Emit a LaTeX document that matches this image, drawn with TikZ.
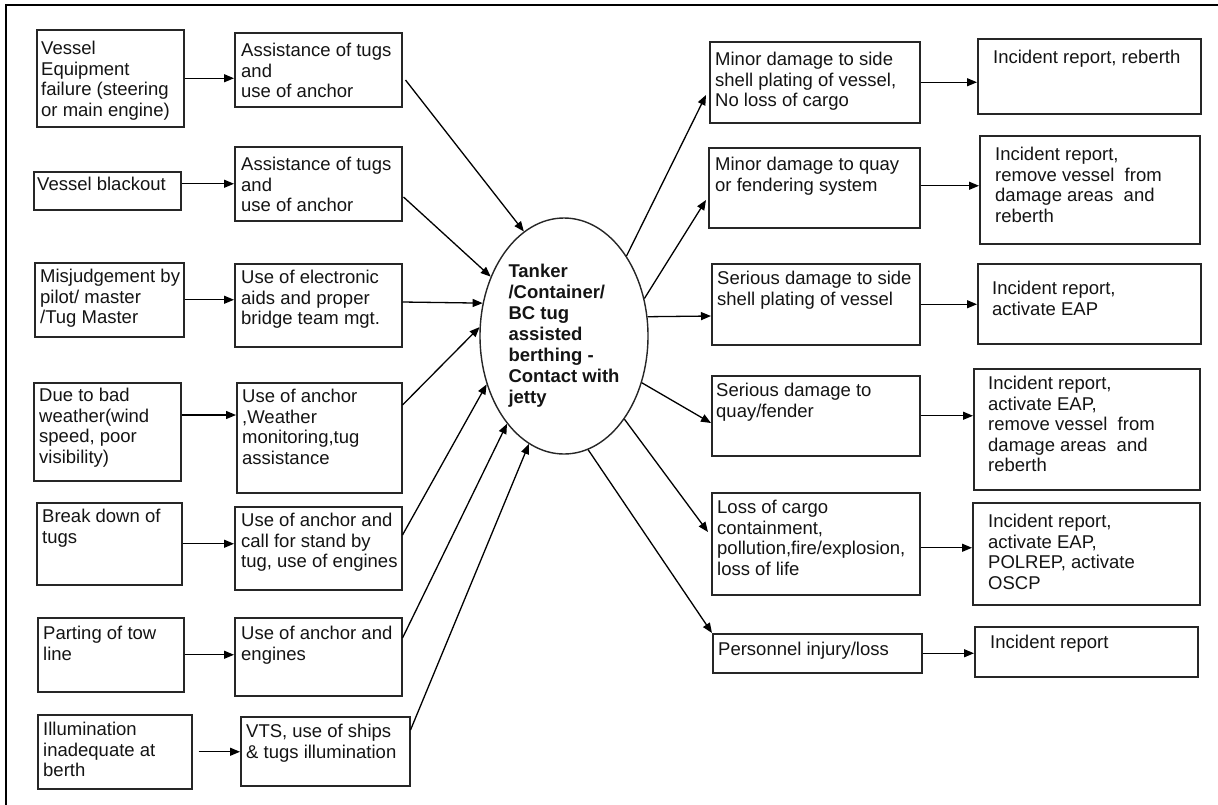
\documentclass[tikz,border=0pt]{standalone}
\usepackage{fontspec}
\setmainfont{Liberation Sans}
\usetikzlibrary{arrows.meta,shapes.geometric,calc}

\tikzset{
  box/.style={draw=black!85, line width=1.5pt, inner sep=0pt, anchor=north west},
  txt/.style={inner sep=0pt, anchor=north west, align=left,
    font=\fontsize{18.5}{20.5}\selectfont, text=black!92},
  arr/.style={draw=black, line width=1.3pt, -{Triangle[length=10pt,width=8pt]}},
  hub/.style={ellipse, draw=black!85, line width=1.4pt, inner sep=0pt, align=left,
    font=\bfseries\fontsize{18.5}{21}\selectfont, text=black!92},
  frame/.style={draw=black, line width=2.2pt},
}

% \tbox{name}{x1}{y1}{x2}{y2}{text x}{text y}{text}
\newcommand\tbox[8]{%
  \node[box, minimum width={(#4-#2)*1pt}, minimum height={(#5-#3)*1pt}] (#1) at (#2,#3) {};
  \node[txt] (#1-t) at (#6,#7) {#8};
}

\begin{document}
\begin{tikzpicture}[x=1pt, y=-1pt]
\useasboundingbox (0,0) rectangle (1218,804);
\fill[white] (0,0) rectangle (1218,804);

% page frame
\draw[frame] (1218,5) -- (6,5) -- (6,806);

% causes
\tbox{l1}{36}{29}{183}{126}{41}{41}{Vessel\\Equipment\\failure (steering\\or main engine)}
\tbox{l2}{33}{171}{180}{209}{37}{177}{Vessel blackout}
\tbox{l3}{34}{262}{183}{336}{40}{269}{Misjudgement by\\pilot/ master\\/Tug Master}
\tbox{l4}{33}{382}{180}{480}{39}{388}{Due to bad\\weather(wind\\speed, poor\\visibility)}
\tbox{l5}{36}{502}{181}{584}{42}{509}{Break down of\\tugs}
\tbox{l6}{37}{617}{183}{691}{43}{626}{Parting of tow\\line}
\tbox{l7}{37}{714}{191}{788}{43}{722}{Illumination\\inadequate at\\berth}

% preventive barriers
\tbox{m1}{234}{32}{401}{106}{241}{43}{Assistance of tugs\\and\\use of anchor}
\tbox{m2}{234}{146}{401}{220}{241}{157}{Assistance of tugs\\and\\use of anchor}
\tbox{m3}{234}{263}{401}{346}{241}{270}{Use of electronic\\aids and proper\\bridge team mgt.}
\tbox{m4}{236}{382}{401}{492}{242}{389}{Use of anchor\\,Weather\\monitoring,tug\\assistance}
\tbox{m5}{234}{506}{401}{589}{241}{513}{Use of anchor and\\call for stand by\\tug, use of engines}
\tbox{m6}{234}{617}{401}{695}{241}{626}{Use of anchor and\\engines}
\tbox{m7}{240}{716}{409}{785}{246}{724}{VTS, use of ships\\\& tugs illumination}

% top event
\node[hub, minimum width=168pt, minimum height=236pt] (hub) at (564,336)
  {Tanker\\/Container/\\BC tug\\assisted\\berthing -\\Contact with\\jetty};

% consequences
\tbox{r1}{709}{41}{919}{122}{715}{52}{Minor damage to side\\shell plating of vessel,\\No loss of cargo}
\tbox{r2}{708}{147}{919}{227}{715}{157}{Minor damage to quay\\or fendering system}
\tbox{r3}{711}{263}{919}{344}{717}{271}{Serious damage to side\\shell plating of vessel}
\tbox{r4}{711}{375}{919}{455}{716}{383}{Serious damage to\\quay/fender}
\tbox{r5}{711}{492}{919}{594}{717}{500}{Loss of cargo\\containment,\\pollution,fire/explosion,\\loss of life}
\tbox{r6}{712}{633}{921}{672}{718}{642}{Personnel injury/loss}

% responses
\tbox{o1}{977}{38}{1200}{113}{993}{50}{Incident report, reberth}
\tbox{o2}{979}{135}{1199}{243}{995}{147}{Incident report,\\remove vessel~ from\\damage areas~ and\\reberth}
\tbox{o3}{977}{263}{1200}{343}{992}{281}{Incident report,\\activate EAP}
\tbox{o4}{973}{368}{1199}{489}{988}{376}{Incident report,\\activate EAP,\\remove vessel~ from\\damage areas~ and\\reberth}
\tbox{o5}{972}{502}{1199}{604}{988}{514}{Incident report,\\activate EAP,\\POLREP, activate\\OSCP}
\tbox{o6}{974}{626}{1197}{676}{990}{635}{Incident report}

% cause -> barrier
\draw[arr] (l1.east) -- (l1.east -| m1.west);
\draw[arr] (m2.west -| l2.east) -- (m2.west);
\draw[arr] (l3.east) -- (l3.east -| m3.west);
\coordinate (a4) at ($(l4.north east)+(0,33)$);
\draw[arr] (a4) -- (a4 -| m4.west);
\draw[arr] (l5.east) -- (l5.east -| m5.west);
\draw[arr] (l6.east) -- (l6.east -| m6.west);
\draw[arr] ([xshift=6pt]l7.east) -- (l7.east -| m7.west);

% barrier -> top event
\draw[arr] ($(m1.north east)+(3,48)$) -- (hub.111);
\draw[arr] ($(m2.north east)+(1,51)$) -- (hub.141);
\draw[arr] ($(m3.north east)+(0,39)$) -- (hub.158);
\draw[arr] ($(m4.north east)+(0,23)$) -- (hub.174);
\draw[arr] ($(m5.north east)+(0,29)$) -- (hub.212);
\draw[arr] ($(m6.north east)+(0,21)$) -- (hub.237);
\draw[arr] ($(m7.north east)+(0,14)$) -- (hub.252);

% top event -> consequence
\draw[arr] (hub.52)  -- ($(r1.north west)+(-3,54)$);
\draw[arr] (hub.25)  -- ($(r2.north west)+(-2,53)$);
\draw[arr] (hub.13)  -- ($(r3.north west)+(0,53)$);
\draw[arr] (hub.329) -- ($(r4.north west)+(0,48)$);
\draw[arr] (hub.306) -- ($(r5.north west)+(-3,40)$);
\draw[arr] (hub.282) -- (r6.north west);

% consequence -> response
\draw[arr] (r1.east) -- (r1.east -| o1.west);
\draw[arr] ([yshift=2pt]r2.east) -- ([yshift=2pt]r2.east -| o2.west);
\draw[arr] (r3.east) -- (r3.east -| o3.west);
\draw[arr] (r4.east) -- (r4.east -| o4.west);
\draw[arr] ([yshift=-4pt]r5.east) -- ([yshift=-4pt]r5.east -| o5.west);
\draw[arr] (r6.east) -- (r6.east -| o6.west);
\end{tikzpicture}
\end{document}
